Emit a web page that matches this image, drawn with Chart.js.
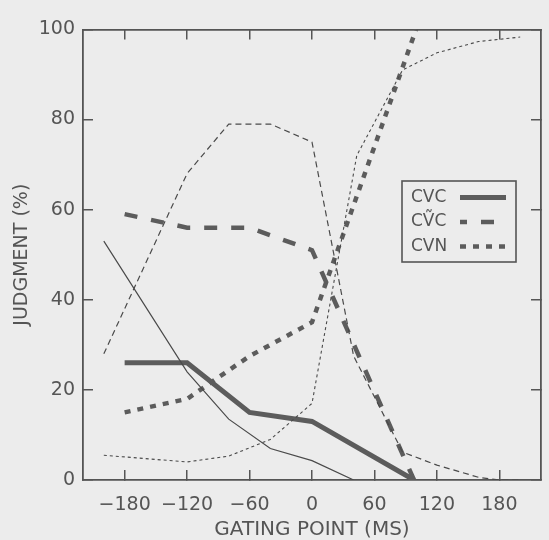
<!DOCTYPE html>
<html>
<head>
<meta charset="utf-8">
<script src="https://cdn.jsdelivr.net/npm/chart.js@4.4.0/dist/chart.umd.min.js"></script>
<style>
  html, body { margin: 0; padding: 0; background: #ececec; }
  #wrap { width: 549px; height: 540px; }
</style>
</head>
<body>
<div id="wrap"><canvas id="chart" width="549" height="540"></canvas></div>
<script>
// gating point (ms) / judgment (%)
var cvcX = [-180, -120, -60, 0, 98];
var cvcY = [26, 26, 15, 13, 0];
var cvcTildeX = [-180, -120, -60, 0, 98];
var cvcTildeY = [59, 56, 56, 51, 0];
var cvnX = [-180, -120, -60, 0, 100];
var cvnY = [15, 18, 27.5, 35, 100];

// thin (unlabelled) curves
var thinSolidX = [-200, -120, -80, -40, 0, 40];
var thinSolidY = [53, 24, 13.5, 7, 4.3, 0];
var thinDashX = [-200, -120, -80, -40, 0, 40, 87, 120, 160, 180, 200];
var thinDashY = [28, 68, 79, 79, 75, 27.5, 6.2, 3.3, 0.6, 0, 0];
var thinDotX = [-200, -120, -80, -40, 0, 43, 87, 120, 160, 200];
var thinDotY = [5.5, 4, 5.3, 9, 17, 72, 91, 94.8, 97.3, 98.3];

var xTicks = [-180, -120, -60, 0, 60, 120, 180];
var yTicks = [0, 20, 40, 60, 80, 100];

var ink = '#555555';
var font = 'DejaVu Sans';

function pts(xs, ys) {
  return xs.map(function (x, i) { return {x: x, y: ys[i]}; });
}

function setTicks(list) {
  return function (scale) {
    scale.ticks = list.map(function (v) { return {value: v}; });
  };
}

// legend drawn inside the plot, text first then the line sample
var boxLegend = {
  id: 'boxLegend',
  afterDraw: function (chart) {
    var ctx = chart.ctx;
    var items = chart.data.datasets.filter(function (d) { return d.label; });
    var left = 402, top = 181, w = 114, h = 81;
    ctx.save();
    ctx.fillStyle = '#ececec';
    ctx.fillRect(left, top, w, h);
    ctx.strokeStyle = ink;
    ctx.lineWidth = 1.6;
    ctx.strokeRect(left, top, w, h);
    ctx.font = '17px "' + font + '"';
    ctx.textBaseline = 'middle';
    ctx.fillStyle = ink;
    items.forEach(function (d, i) {
      var y = 197.5 + i * 24.5;
      ctx.fillText(d.label, 411, y);
      ctx.beginPath();
      ctx.setLineDash(d.borderDash || []);
      ctx.lineDashOffset = d.legendOffset || 0;
      ctx.strokeStyle = d.borderColor;
      ctx.lineWidth = d.borderWidth;
      ctx.lineCap = 'butt';
      ctx.moveTo(460, y);
      ctx.lineTo(506, y);
      ctx.stroke();
    });
    ctx.restore();
  }
};

var ctx = document.getElementById('chart');
var chart = new Chart(ctx, {
  type: 'line',
  data: {
    datasets: [
      {
        data: pts(thinSolidX, thinSolidY),
        borderColor: '#4a4a4a',
        borderWidth: 1.2,
        pointRadius: 0
      },
      {
        data: pts(thinDashX, thinDashY),
        borderColor: '#4a4a4a',
        borderWidth: 1.2,
        borderDash: [6, 4],
        pointRadius: 0
      },
      {
        data: pts(thinDotX, thinDotY),
        borderColor: '#4a4a4a',
        borderWidth: 1.1,
        borderDash: [3, 3],
        pointRadius: 0
      },
      {
        label: 'CVC',
        data: pts(cvcX, cvcY),
        borderColor: '#5c5c5c',
        borderWidth: 5,
        pointRadius: 0
      },
      {
        label: 'CV\u0303C',
        data: pts(cvcTildeX, cvcTildeY),
        borderColor: '#5c5c5c',
        borderWidth: 4.5,
        borderDash: [13, 14],
        legendOffset: 6,
        pointRadius: 0
      },
      {
        label: 'CVN',
        data: pts(cvnX, cvnY),
        borderColor: '#5c5c5c',
        borderWidth: 4.5,
        borderDash: [6, 7],
        pointRadius: 0
      }
    ]
  },
  options: {
    responsive: false,
    animation: false,
    layout: { padding: { left: 0, right: 8, top: 23, bottom: 0 } },
    plugins: { legend: { display: false }, tooltip: { enabled: false } },
    elements: { line: { tension: 0, fill: false, borderCapStyle: 'butt' } },
    scales: {
      x: {
        type: 'linear',
        position: 'bottom',
        min: -220,
        max: 220,
        afterBuildTicks: setTicks(xTicks),
        afterFit: function (s) { s.height = 60; },
        ticks: {
          padding: 24,
          color: ink,
          font: { family: font, size: 19 },
          maxRotation: 0,
          callback: function (v) { return v < 0 ? '\u2212' + Math.abs(v) : '' + v; }
        },
        grid: { drawOnChartArea: false, drawTicks: true, tickLength: -10, color: ink, lineWidth: 1.5 },
        border: { display: true, color: ink, width: 1.8 },
        title: {
          display: true,
          text: 'GATING POINT (MS)',
          color: ink,
          font: { family: font, size: 20 },
          padding: { top: 0, bottom: -2 }
        }
      },
      x2: {
        type: 'linear',
        position: 'top',
        min: -220,
        max: 220,
        afterBuildTicks: setTicks(xTicks),
        afterFit: function (s) { s.height = 0; },
        ticks: { display: false },
        grid: { drawOnChartArea: false, drawTicks: true, tickLength: -10, color: ink, lineWidth: 1.5 },
        border: { display: true, color: ink, width: 1.8 }
      },
      y: {
        type: 'linear',
        position: 'left',
        min: 0,
        max: 100,
        afterBuildTicks: setTicks(yTicks),
        afterFit: function (s) { s.width = 83; },
        ticks: {
          padding: 18,
          color: ink,
          font: { family: font, size: 19 }
        },
        grid: { drawOnChartArea: false, drawTicks: true, tickLength: -10, color: ink, lineWidth: 1.5 },
        border: { display: true, color: ink, width: 1.8 },
        title: {
          display: true,
          text: 'JUDGMENT (%)',
          color: ink,
          font: { family: font, size: 19 },
          padding: { top: 11, bottom: 0 }
        }
      },
      y2: {
        type: 'linear',
        position: 'right',
        min: 0,
        max: 100,
        afterBuildTicks: setTicks(yTicks),
        afterFit: function (s) { s.width = 0; },
        ticks: { display: false },
        grid: { drawOnChartArea: false, drawTicks: true, tickLength: -10, color: ink, lineWidth: 1.5 },
        border: { display: true, color: ink, width: 1.8 }
      }
    }
  },
  plugins: [boxLegend]
});
</script>
</body>
</html>
